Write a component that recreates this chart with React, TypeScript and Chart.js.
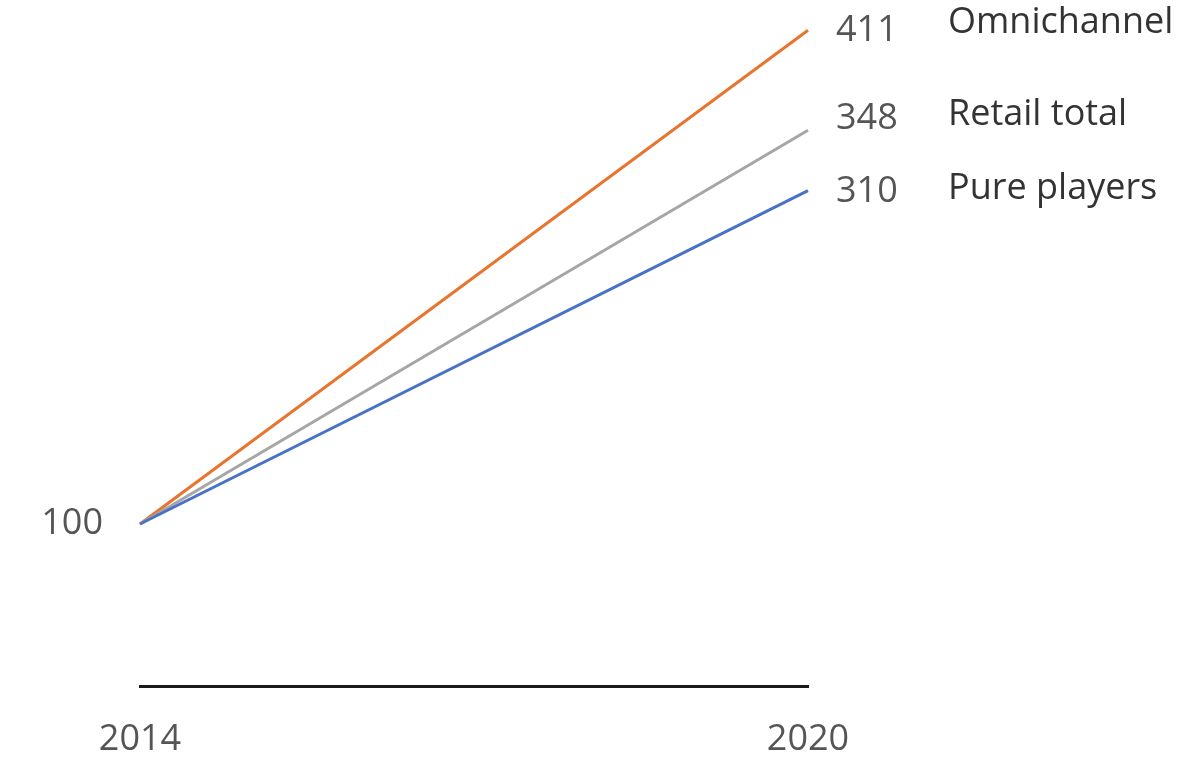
import React, { useEffect, useRef } from "react";
import { Chart, registerables } from "chart.js";

Chart.register(...registerables);

const years = ["2014", "2020"];
const omnichannel = [100, 411];
const retailTotal = [100, 348];
const purePlayers = [100, 310];
const seriesNames = ["Omnichannel", "Retail total", "Pure players"];
const yTickValues = [100];

const FONT = "'Open Sans', sans-serif";

const endLabels = {
  id: "endLabels",
  afterDatasetsDraw(chart: any) {
    const ctx = chart.ctx;
    ctx.save();
    ctx.textBaseline = "middle";
    ctx.textAlign = "left";
    chart.data.datasets.forEach((ds: any, i: number) => {
      const meta = chart.getDatasetMeta(i);
      const pt = meta.data[meta.data.length - 1];
      const val = ds.data[ds.data.length - 1];
      ctx.font = `36px ${FONT}`;
      ctx.fillStyle = "#555555";
      ctx.fillText(String(val), pt.x + 28, pt.y + ds.numDy);
      ctx.fillStyle = "#333333";
      ctx.fillText(ds.label, pt.x + 140, pt.y + ds.nameDy);
    });
    ctx.restore();
  },
};

export default function App() {
  const ref = useRef<HTMLCanvasElement>(null);
  useEffect(() => {
    document.body.style.margin = "0";
    const chart = new Chart(ref.current!, {
      type: "line",
      data: {
        labels: years,
        datasets: [
          { label: seriesNames[2], data: purePlayers, borderColor: "#4A72C4", numDy: 1, nameDy: -2 } as any,
          { label: seriesNames[1], data: retailTotal, borderColor: "#A6A6A6", numDy: -11, nameDy: -15 } as any,
          { label: seriesNames[0], data: omnichannel, borderColor: "#E8742F", numDy: 1, nameDy: -7 } as any,
        ].map((d: any) => ({ ...d, borderWidth: 3, pointRadius: 0, fill: false, tension: 0 })),
      },
      options: {
        animation: false,
        responsive: false,
        maintainAspectRatio: false,
        layout: { padding: { left: 0, right: 392, top: 0, bottom: 0 } },
        plugins: { legend: { display: false }, tooltip: { enabled: false }, title: { display: false } },
        scales: {
          x: {
            type: "category",
            offset: false,
            grid: { display: false, drawTicks: false },
            border: { display: true, color: "#1a1a1a", width: 3 },
            ticks: { font: { family: FONT, size: 36 }, color: "#555555", padding: 32, maxRotation: 0 },
            afterFit: (s: any) => { s.height = 83; },
          },
          y: {
            min: -2,
            max: 430,
            grid: { display: false, drawTicks: false },
            border: { display: false },
            afterBuildTicks: (s: any) => { s.ticks = yTickValues.map((v) => ({ value: v })); },
            ticks: { font: { family: FONT, size: 36 }, color: "#555555", padding: 37 },
            afterFit: (s: any) => { s.width = 140; s.paddingTop = 0; s.paddingBottom = 0; },
          },
        },
      },
      plugins: [endLabels],
    });
    return () => chart.destroy();
  }, []);
  return (
    <div style={{ position: "absolute", left: 0, top: 0, width: 1200, height: 769, background: "#fff" }}>
      <canvas ref={ref} width={1200} height={769} style={{ width: 1200, height: 769 }} />
    </div>
  );
}
